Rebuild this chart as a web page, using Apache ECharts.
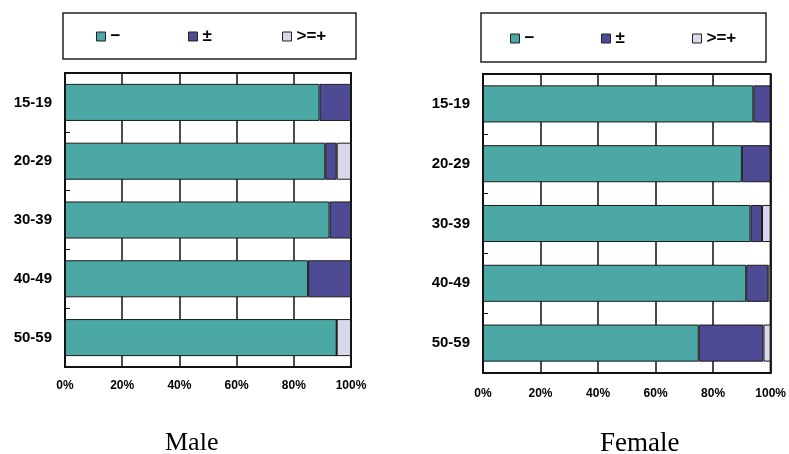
<!DOCTYPE html>
<html>
<head>
<meta charset="utf-8">
<script src="https://cdn.jsdelivr.net/npm/echarts@6/dist/echarts.min.js"></script>
<style>
  html, body { margin: 0; padding: 0; background: #fff; }
  #chart { width: 789px; height: 454px; }
</style>
</head>
<body>
<div id="chart"></div>
<script>
// Age groups (top to bottom)
const categories = ['15-19', '20-29', '30-39', '40-49', '50-59'];

// Share of each result class per age group, percent
const maleNeg   = [89, 91, 92.5, 85, 95];
const maleMid   = [11, 4, 7.5, 15, 0];
const malePos   = [0, 5, 0, 0, 5];

const femaleNeg = [94, 90, 93, 91.5, 75];
const femaleMid = [6, 10, 4, 7.7, 22.5];
const femalePos = [0, 0, 3, 0.8, 2.5];

const seriesNames = ['−', '±', '>=+'];
const colors = ['#4BA8A4', '#4E4A93', '#D9D7EB'];
const xTicks = [0, 20, 40, 60, 80, 100];

const chart = echarts.init(document.getElementById('chart'), null, { renderer: 'canvas' });

const grids = [
  { left: 65, top: 73, width: 286, height: 294 },
  { left: 483, top: 74, width: 289, height: 299 }
];

function xAxisFor(i, margin) {
  return {
    type: 'value', gridIndex: i, min: xTicks[0], max: xTicks[xTicks.length - 1], interval: 20,
    axisLine: { show: true, lineStyle: { color: '#111', width: 2 } },
    axisTick: { show: false },
    axisLabel: {
      formatter: '{value}%', margin: margin, color: '#000',
      fontFamily: 'Liberation Sans', fontWeight: 'bold', fontSize: 12
    },
    splitLine: { show: true, lineStyle: { color: '#111', width: 1.5 } }
  };
}

function yAxisFor(i) {
  return {
    type: 'category', gridIndex: i, data: categories, inverse: true,
    axisLine: { show: true, lineStyle: { color: '#111', width: 2 } },
    axisTick: { show: true, inside: true, length: 5, lineStyle: { color: '#111', width: 1 } },
    axisLabel: {
      margin: 13, color: '#000',
      fontFamily: 'Liberation Sans', fontWeight: 'bold', fontSize: 15
    },
    splitLine: { show: false }
  };
}

function barSeries(name, data, color, idx, stack, barWidth) {
  return {
    name: name, type: 'bar', stack: stack, data: data,
    xAxisIndex: idx, yAxisIndex: idx, barWidth: barWidth,
    itemStyle: { color: color, borderColor: '#1a1a1a', borderWidth: 1 },
    emphasis: { disabled: true }
  };
}

const maleSets = [maleNeg, maleMid, malePos];
const femaleSets = [femaleNeg, femaleMid, femalePos];

const series = [];
seriesNames.forEach((n, k) => series.push(barSeries(n, maleSets[k], colors[k], 0, 'male', '63%')));
seriesNames.forEach((n, k) => series.push(barSeries(n, femaleSets[k], colors[k], 1, 'female', '62%')));

// One legend per entry so each sits at its own spot inside the framed box
const legendPos = [
  { xs: [96, 188, 282], y: 28 },
  { xs: [510, 601, 692], y: 30 }
];
const legends = [];
legendPos.forEach(p => {
  seriesNames.forEach((n, k) => {
    legends.push({
      data: [{ name: n, icon: 'rect' }], left: p.xs[k], top: p.y, padding: 0,
      itemWidth: 9, itemHeight: 9, itemGap: 6, selectedMode: false,
      itemStyle: { borderColor: '#222', borderWidth: 1 },
      textStyle: { fontFamily: 'Liberation Sans', fontWeight: 'bold', fontSize: 17, color: '#000' }
    });
  });
});

chart.setOption({
  animation: false,
  backgroundColor: '#fff',
  grid: grids.map(g => Object.assign({ show: true, borderColor: '#111', borderWidth: 2, backgroundColor: '#fff' }, g)),
  xAxis: [xAxisFor(0, 13), xAxisFor(1, 15)],
  yAxis: [yAxisFor(0), yAxisFor(1)],
  legend: legends,
  title: [
    { text: 'Male', left: 165, top: 430, padding: 0,
      textStyle: { fontFamily: 'Liberation Serif', fontWeight: 'normal', fontSize: 26, color: '#000' } },
    { text: 'Female', left: 600, top: 430, padding: 0,
      textStyle: { fontFamily: 'Liberation Serif', fontWeight: 'normal', fontSize: 27, color: '#000' } }
  ],
  graphic: [
    { type: 'rect', shape: { x: 63, y: 13, width: 293, height: 46 }, z: -1,
      style: { fill: '#fff', stroke: '#222', lineWidth: 1.5 } },
    { type: 'rect', shape: { x: 481, y: 13, width: 285, height: 49 }, z: -1,
      style: { fill: '#fff', stroke: '#222', lineWidth: 1.5 } }
  ],
  series: series
});
</script>
</body>
</html>
